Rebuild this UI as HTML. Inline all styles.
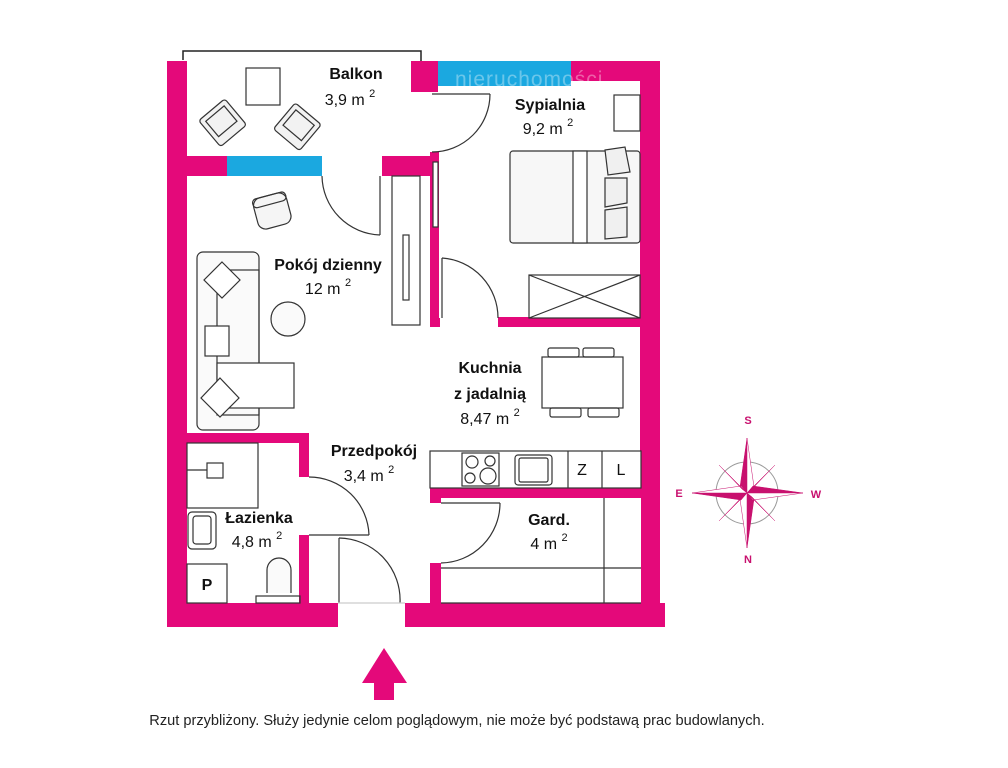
<!DOCTYPE html>
<html><head><meta charset="utf-8"><style>
html,body{margin:0;padding:0;background:#fff;}
svg{display:block;font-family:"Liberation Sans",sans-serif;}
</style></head><body>
<svg width="1008" height="768" viewBox="0 0 1008 768" xmlns="http://www.w3.org/2000/svg">
<rect width="1008" height="768" fill="#fff"/>
<polyline points="183,60 183,51 421,51 421,62" fill="none" stroke="#222" stroke-width="1.5"/>
<g fill="#E4097A">
<rect x="167" y="61" width="20" height="566"/>
<rect x="187" y="156" width="40" height="20"/>
<rect x="382" y="156" width="48" height="20"/>
<rect x="411" y="61" width="27" height="31"/>
<rect x="571" y="61" width="89" height="20"/>
<rect x="640" y="61" width="20" height="566"/>
<rect x="430" y="152" width="9" height="175"/>
<rect x="430" y="318" width="10" height="9"/>
<rect x="498" y="317" width="162" height="10"/>
<rect x="187" y="433" width="122" height="10"/>
<rect x="299" y="433" width="10" height="44"/>
<rect x="299" y="535" width="10" height="68"/>
<rect x="167" y="603" width="171" height="24"/>
<rect x="405" y="603" width="260" height="24"/>
<rect x="430" y="488" width="211" height="10"/>
<rect x="430" y="488" width="11" height="15"/>
<rect x="430" y="563" width="11" height="40"/>
</g>
<g fill="#1BA8E0">
<rect x="227" y="156" width="95" height="20"/>
<rect x="438" y="61" width="133" height="25"/>
</g>
<text x="455" y="86" font-size="21" fill="#fff" opacity="0.35" letter-spacing="1">nieruchomości</text>
<g fill="none" stroke="#333" stroke-width="1.2">
<rect x="246" y="68" width="34" height="37" fill="#fff"/>
<g transform="translate(222,122) rotate(-40)"><rect x="-17" y="-16" width="34" height="34" rx="3" fill="#f2f2f2"/><rect x="-12" y="-11" width="24" height="20"/></g>
<g transform="translate(298,126) rotate(40)"><rect x="-17" y="-16" width="34" height="34" rx="3" fill="#f2f2f2"/><rect x="-12" y="-11" width="24" height="20"/></g>
<polyline points="432,94 490,94"/>
<path d="M490,94 A58,58 0 0 1 432,152"/>
<path d="M322,176 A60,60 0 0 0 380,235"/>
<line x1="380" y1="176" x2="380" y2="235"/>
<g transform="translate(272,210) rotate(-15)"><rect x="-17" y="-15" width="34" height="32" rx="8" fill="#f5f5f5"/><rect x="-17" y="-15" width="34" height="9" rx="4"/></g>
<rect x="392" y="176" width="28" height="149" fill="#fff"/>
<rect x="403" y="235" width="6" height="65"/>
<rect x="433" y="162" width="5" height="65" fill="#fff"/>
<rect x="197" y="252" width="62" height="178" rx="6" fill="#fafafa"/>
<rect x="217" y="270" width="42" height="145"/>
<rect x="217" y="363" width="77" height="45" fill="#fff"/>
<circle cx="288" cy="319" r="17" fill="#fafafa"/>
<g fill="#fff">
<path d="M222,262 l18,18 l-18,18 l-18,-18z"/>
<rect x="205" y="326" width="24" height="30"/>
<path d="M220,378 l19,20 l-19,19 l-19,-19z"/>
</g>
<rect x="614" y="95" width="26" height="36" fill="#fff"/>
<rect x="510" y="151" width="130" height="92" rx="3" fill="#f7f7f7"/>
<rect x="573" y="151" width="14" height="92" fill="#fff"/>
<path d="M605,150 l20,-3 5,25 -22,3z M605,178 l22,0 0,25 -22,4z M605,210 l22,-3 0,30 -22,2z" fill="#f0f0f0"/>
<rect x="529" y="275" width="111" height="43" fill="#fff"/>
<line x1="529" y1="275" x2="640" y2="318"/><line x1="529" y1="318" x2="640" y2="275"/>
<line x1="442" y1="258" x2="442" y2="318"/>
<path d="M442,258 A60,60 0 0 1 498,318"/>
<rect x="542" y="357" width="81" height="51" fill="#fff"/>
<rect x="548" y="348" width="31" height="9" rx="2"/><rect x="583" y="348" width="31" height="9" rx="2"/>
<rect x="550" y="408" width="31" height="9" rx="2"/><rect x="588" y="408" width="31" height="9" rx="2"/>
<rect x="430" y="451" width="211" height="37" fill="#fff"/>
<rect x="462" y="453" width="37" height="33"/>
<circle cx="472" cy="462" r="6"/><circle cx="490" cy="461" r="5"/><circle cx="470" cy="478" r="5"/><circle cx="488" cy="476" r="8"/>
<rect x="515" y="455" width="37" height="30" rx="3"/><rect x="519" y="458" width="29" height="24" rx="2"/>
<line x1="568" y1="451" x2="568" y2="488"/><line x1="602" y1="451" x2="602" y2="488"/>
<rect x="441" y="498" width="200" height="105" fill="#fff" stroke="none"/>
<line x1="441" y1="568" x2="641" y2="568"/>
<line x1="604" y1="498" x2="604" y2="603"/>
<line x1="441" y1="603" x2="641" y2="603"/>
<line x1="441" y1="503" x2="500" y2="503"/>
<path d="M500,503 A60,60 0 0 1 441,563"/>
<rect x="187" y="443" width="71" height="65"/>
<rect x="207" y="463" width="16" height="15"/><line x1="187" y1="470" x2="207" y2="470"/>
<rect x="188" y="512" width="28" height="37" rx="4"/><rect x="193" y="516" width="18" height="28" rx="3"/>
<rect x="187" y="564" width="40" height="39"/>
<path d="M267,593 L267,570 A12,12 0 0 1 291,570 L291,593" fill="#fafafa"/>
<rect x="256" y="596" width="44" height="7"/>
<path d="M309,477 A60,60 0 0 1 369,535"/>
<line x1="309" y1="535" x2="369" y2="535"/>
<line x1="339" y1="538" x2="339" y2="603"/>
<path d="M339,538 A62,62 0 0 1 400,603"/>
<line x1="338" y1="603" x2="405" y2="603" stroke="#ccc"/>
</g>
<g fill="#111" font-size="16" text-anchor="middle">
<text x="356" y="79" font-weight="bold">Balkon</text>
<text x="350" y="105">3,9 m <tspan font-size="11" dy="-8">2</tspan></text>
<text x="550" y="110" font-weight="bold">Sypialnia</text>
<text x="548" y="134">9,2 m <tspan font-size="11" dy="-8">2</tspan></text>
<text x="328" y="270" font-weight="bold">Pokój dzienny</text>
<text x="328" y="294">12 m <tspan font-size="11" dy="-8">2</tspan></text>
<text x="490" y="373" font-weight="bold">Kuchnia</text>
<text x="490" y="399" font-weight="bold">z jadalnią</text>
<text x="490" y="424">8,47 m <tspan font-size="11" dy="-8">2</tspan></text>
<text x="374" y="456" font-weight="bold">Przedpokój</text>
<text x="369" y="481">3,4 m <tspan font-size="11" dy="-8">2</tspan></text>
<text x="259" y="523" font-weight="bold">Łazienka</text>
<text x="257" y="547">4,8 m <tspan font-size="11" dy="-8">2</tspan></text>
<text x="549" y="525" font-weight="bold">Gard.</text>
<text x="549" y="549">4 m <tspan font-size="11" dy="-8">2</tspan></text>
<text x="582" y="475">Z</text>
<text x="621" y="475">L</text>
<text x="207" y="590" font-weight="bold">P</text>
</g>
<g>
<circle cx="747" cy="493" r="31" fill="none" stroke="#999" stroke-width="1"/>
<g fill="#C8106E" stroke="#C8106E" stroke-width="0.5">
<polygon points="747,438 740,487 747,493"/><polygon points="747,438 754,487 747,493" fill="#fff"/>
<polygon points="747,548 754,499 747,493"/><polygon points="747,548 740,499 747,493" fill="#fff"/>
<polygon points="692,493 741,500 747,493"/><polygon points="692,493 741,486 747,493" fill="#fff"/>
<polygon points="803,493 753,486 747,493"/><polygon points="803,493 753,500 747,493" fill="#fff"/>
<polygon points="719,465 742,489 747,493"/><polygon points="775,465 752,489 747,493"/>
<polygon points="719,521 742,497 747,493"/><polygon points="775,521 752,497 747,493"/>
</g>
<g fill="#C8106E" font-size="11" font-weight="bold" text-anchor="middle">
<text x="748" y="424">S</text><text x="679" y="497">E</text><text x="816" y="498">W</text><text x="748" y="563">N</text>
</g>
</g>
<polygon points="384,648 407,683 394,683 394,700 374,700 374,683 362,683" fill="#E4097A"/>
<text x="457" y="725" font-size="14.6" fill="#222" text-anchor="middle">Rzut przybliżony. Służy jedynie celom poglądowym, nie może być podstawą prac budowlanych.</text>
</svg>
</body></html>
